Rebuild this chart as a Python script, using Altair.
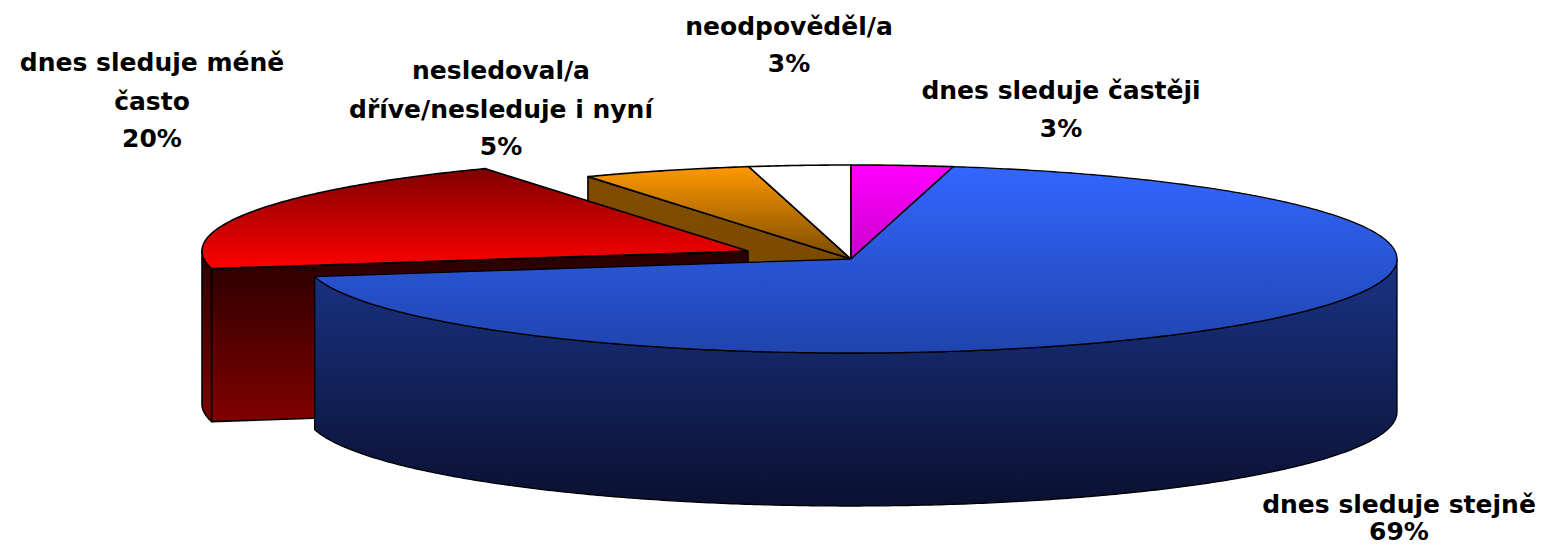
import math
import altair as alt
import pandas as pd

# Chart values (percent), clockwise from 12 o'clock
categories = ["dnes sleduje častěji", "dnes sleduje stejně", "dnes sleduje méně často",
              "nesledoval/a dříve/nesleduje i nyní", "neodpověděl/a"]
values = [3, 69, 20, 5, 3]

# Label rows
label_text = ["dnes sleduje méně", "často", "20%",
              "nesledoval/a", "dříve/nesleduje i nyní", "5%",
              "neodpověděl/a", "3%",
              "dnes sleduje častěji", "3%",
              "dnes sleduje stejně", "69%"]
label_x = [152, 152, 152, 501, 501, 501, 789, 789, 1061, 1061, 1399, 1399]
label_y = [63, 102, 139, 71, 110, 147, 27, 64, 91, 129, 505, 532]

# Projection of the tilted pie
CX, CY, RX, RY, DEPTH = 851, 259, 546, 94, 153
EXPLODE = (-103, -8)


def rim(t, off=(0, 0), dz=0):
    a = math.radians(t)
    return (CX + off[0] + RX * math.sin(a), CY + off[1] - RY * math.cos(a) + dz)


def arc(t0, t1, off=(0, 0), dz=0):
    n = max(2, int(abs(t1 - t0) * 2))
    return [rim(t0 + (t1 - t0) * i / n, off, dz) for i in range(n + 1)]


def grad(c0, c1):
    return alt.LinearGradient(gradient="linear", x1=0, y1=0, x2=0, y2=1,
                              stops=[alt.GradientStop(color=c0, offset=0),
                                     alt.GradientStop(color=c1, offset=1)])


X = alt.Scale(domain=[8, 1539], nice=False, zero=False)
Y = alt.Scale(domain=[547, 8], nice=False, zero=False)


def poly(pts, c0, c1=None, sw=1.6):
    pts = list(pts) + [pts[0]]
    df = pd.DataFrame({"x": [p[0] for p in pts], "y": [p[1] for p in pts], "i": range(len(pts))})
    return alt.Chart(df).mark_line(
        fill=grad(c0, c1 or c0), stroke="black", strokeWidth=sw, strokeJoin="round", clip=False
    ).encode(x=alt.X("x:Q", scale=X, axis=None), y=alt.Y("y:Q", scale=Y, axis=None), order="i:Q")


# Slice boundaries from the values
edges = [0]
for v in values:
    edges.append(edges[-1] + v * 3.6)
a_mag = (0, edges[1])
a_blue = (edges[1], edges[2])
a_red = (edges[2], edges[3])
a_org = (edges[3], edges[4])
a_wht = (edges[4], edges[5])
O = (CX, CY)
EO = (CX + EXPLODE[0], CY + EXPLODE[1])

layers = []
# orange cut face
r = rim(a_org[0])
layers.append(poly([O, r, (r[0], r[1] + DEPTH), (O[0], O[1] + DEPTH)], "#804d00", "#754700"))
# tops of the small slices
layers.append(poly([O] + arc(*a_org), "#ff9900", "#7a4a00"))
layers.append(poly([O] + arc(*a_wht), "#ffffff"))
layers.append(poly([O] + arc(*a_mag), "#ff00ff", "#cc00cc"))
# exploded red slice: outer wall, cut face, top
t0 = a_red[0]
layers.append(poly(arc(t0, 270, EXPLODE) + arc(270, t0, EXPLODE, DEPTH), "#2a0000", "#800000"))
rr = rim(t0, EXPLODE)
layers.append(poly([EO, rr, (rr[0], rr[1] + DEPTH), (EO[0], EO[1] + DEPTH)], "#260000", "#800000"))
layers.append(poly([EO] + arc(*a_red, EXPLODE), "#800000", "#ff0000"))
# blue wall and top
layers.append(poly(arc(90, a_blue[1]) + arc(a_blue[1], 90, dz=DEPTH), "#1a3385", "#0a1030", 1.3))
layers.append(poly([O] + arc(*a_blue), "#3366ff", "#1f44ad", 1.3))

labels = alt.Chart(pd.DataFrame({"t": label_text, "x": label_x, "y": label_y})).mark_text(
    font="DejaVu Sans", fontWeight="bold", fontSize=25, color="black", align="center", baseline="middle"
).encode(x=alt.X("x:Q", scale=X, axis=None), y=alt.Y("y:Q", scale=Y, axis=None), text="t:N")

chart = alt.layer(*layers, labels).properties(
    width=1531, height=539, padding=0, background="white", autosize=alt.AutoSizeParams(type="none")
).configure_view(stroke=None)

chart.save("out.html", embed_options={"renderer": "svg", "actions": False})
